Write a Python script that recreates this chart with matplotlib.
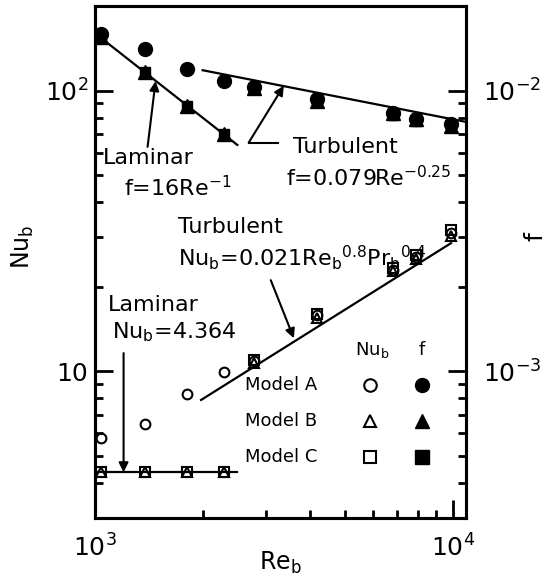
import matplotlib
matplotlib.use("Agg")
import matplotlib.pyplot as plt
from matplotlib.ticker import NullFormatter

plt.rcParams['font.family'] = ['DejaVu Sans']
plt.rcParams['mathtext.default'] = 'regular'
plt.rcParams['mathtext.fontset'] = 'dejavusans'

# Reynolds numbers of the computed points
re = [1040, 1380, 1810, 2290, 2780, 4180, 6800, 7900, 9900]

# Nusselt number (open symbols)
nu_a = [5.8, 6.5, 8.3, 9.9, 10.9, 15.8, 23.0, 25.5, 31.0]
nu_b = [4.36, 4.36, 4.36, 4.36, 10.7, 15.5, 22.8, 25.2, 30.3]
nu_c = [4.36, 4.36, 4.36, 4.36, 11.0, 16.0, 23.3, 25.9, 31.8]

# friction factor (filled symbols)
f_a = [0.0159, 0.0140, 0.0119, 0.0108, 0.0103, 0.0093, 0.0083, 0.0079, 0.0076]
f_b = [0.0155, 0.0116, 0.0088, 0.0070, 0.0102, 0.0092, 0.0083, 0.0079, 0.0075]
f_c = [0.0155, 0.0116, 0.0088, 0.0070, 0.0101, 0.0092, 0.0082, 0.0078, 0.0075]

# correlation lines (end points)
lam_f_re = [1000, 2500]
lam_f = [0.016, 0.0064]
turb_f_re = [2000, 10900]
turb_f = [0.01181, 0.00773]
lam_nu_re = [1000, 2500]
lam_nu = [4.364, 4.364]
turb_nu_re = [1980, 9900]
turb_nu = [7.90, 28.6]

fig = plt.figure(figsize=(5.49, 5.86), dpi=100)
ax = fig.add_axes([95 / 549, 1 - 518 / 586, 371 / 549, 512 / 586])
ax.set_xscale('log')
ax.set_yscale('log')
ax.set_xlim(1000, 10900)
ax.set_ylim(3, 200)
ax2 = ax.twinx()
ax2.set_yscale('log')
ax2.set_ylim(3e-4, 2e-2)

for s in ax.spines.values():
    s.set_linewidth(2.2)
for s in ax2.spines.values():
    s.set_linewidth(2.2)

# ticks
ax.set_xticks([1e3, 1e4])
ax.set_xticklabels(['$10^3$', '$10^4$'])
ax.set_xticks([2000, 3000, 4000, 5000, 6000, 7000, 8000, 9000], minor=True)
ax.xaxis.set_minor_formatter(NullFormatter())
ax.set_yticks([10, 100])
ax.set_yticklabels(['10', '$10^2$'])
ax.set_yticks([3, 4, 5, 6, 7, 8, 9, 20, 30, 40, 50, 60, 70, 80, 90], minor=True)
ax.yaxis.set_minor_formatter(NullFormatter())
ax2.set_yticks([1e-3, 1e-2])
ax2.set_yticklabels(['$10^{-3}$', '$10^{-2}$'])
ax2.set_yticks([3e-4, 4e-4, 5e-4, 6e-4, 7e-4, 8e-4, 9e-4,
                2e-3, 3e-3, 4e-3, 5e-3, 6e-3, 7e-3, 8e-3, 9e-3], minor=True)
ax2.yaxis.set_minor_formatter(NullFormatter())

ax.tick_params(which='both', direction='in', top=False, right=False, width=2)
ax.tick_params(which='major', length=13)
ax.tick_params(which='minor', length=6)
ax.tick_params(axis='x', labelsize=18, pad=12)
ax.tick_params(axis='y', labelsize=18, pad=5)
ax2.tick_params(which='both', direction='in', width=2, labelsize=18, pad=12)
ax2.tick_params(which='major', length=13)
ax2.tick_params(which='minor', length=6)

ax.set_xlabel('Re$_b$', fontsize=17)
ax.xaxis.set_label_coords(0.5, -0.062)
ax.set_ylabel('Nu$_b$', fontsize=17)
ax.yaxis.set_label_coords(-0.16, 0.53)
ax2.set_ylabel('f', fontsize=18)
ax2.yaxis.set_label_coords(1.155, 0.55)

# correlation lines
ax2.plot(lam_f_re, lam_f, color='k', lw=1.6)
ax2.plot(turb_f_re, turb_f, color='k', lw=1.6)
ax.plot(lam_nu_re, lam_nu, color='k', lw=1.6)
ax.plot(turb_nu_re, turb_nu, color='k', lw=1.6)

# data points
ax.plot(re, nu_c, 's', mfc='none', mec='k', ms=7, mew=1.5, ls='none')
ax.plot(re, nu_b, '^', mfc='none', mec='k', ms=7, mew=1.5, ls='none')
ax.plot(re, nu_a, 'o', mfc='none', mec='k', ms=7, mew=1.5, ls='none')
ax2.plot(re, f_c, 's', color='k', ms=7, ls='none')
ax2.plot(re, f_b, '^', color='k', ms=10, ls='none')
ax2.plot(re, f_a, 'o', color='k', ms=10, ls='none')

arrow = dict(arrowstyle='-|>', color='k', lw=1.5, mutation_scale=14,
             shrinkA=0, shrinkB=0)
fs = 16

# friction annotations
ax2.text(1049, 0.00577, 'Laminar', fontsize=fs, va='center')
ax2.text(1202, 0.00451, 'f=16Re$^{-1}$', fontsize=fs, va='center')
ax2.annotate('', xy=(1477, 0.0108), xytext=(1403, 0.0063), arrowprops=arrow)
ax2.text(3572, 0.00631, 'Turbulent', fontsize=fs, va='center')
ax2.text(3418, 0.00489, 'f=0.079Re$^{-0.25}$', fontsize=fs, va='center')
ax2.plot([3244, 2690], [0.00652, 0.00652], color='k', lw=1.5)
ax2.annotate('', xy=(3372, 0.0104), xytext=(2690, 0.00652), arrowprops=arrow)

# Nusselt annotations
ax.text(1702, 32.7, 'Turbulent', fontsize=fs, va='center')
ax.text(1702, 25.3, 'Nu$_b$=0.021Re$_b$$^{0.8}$Pr$_b$$^{0.4}$', fontsize=fs, va='center')
ax.annotate('', xy=(3598, 13.1), xytext=(3101, 21.1), arrowprops=arrow)
ax.text(1084, 17.2, 'Laminar', fontsize=fs, va='center')
ax.text(1119, 13.8, 'Nu$_b$=4.364', fontsize=fs, va='center')
ax.annotate('', xy=(1202, 4.364), xytext=(1202, 11.6), arrowprops=arrow)

# symbol key
tr = ax.transAxes
ax.text(0.747, 0.328, 'Nu$_b$', transform=tr, fontsize=13, ha='center', va='center')
ax.text(0.881, 0.328, 'f', transform=tr, fontsize=13, ha='center', va='center')
rows = [('Model A', 'o', 0.260), ('Model B', '^', 0.189), ('Model C', 's', 0.119)]
for name, mk, yy in rows:
    ax.text(0.60, yy, name, transform=tr, fontsize=13, ha='right', va='center')
    ax.plot([0.741], [yy], mk, transform=tr, mfc='white', mec='k', ms=9, mew=1.5)
    ax.plot([0.881], [yy], mk, transform=tr, color='k', ms=10)

fig.savefig('out.png', dpi=100)
